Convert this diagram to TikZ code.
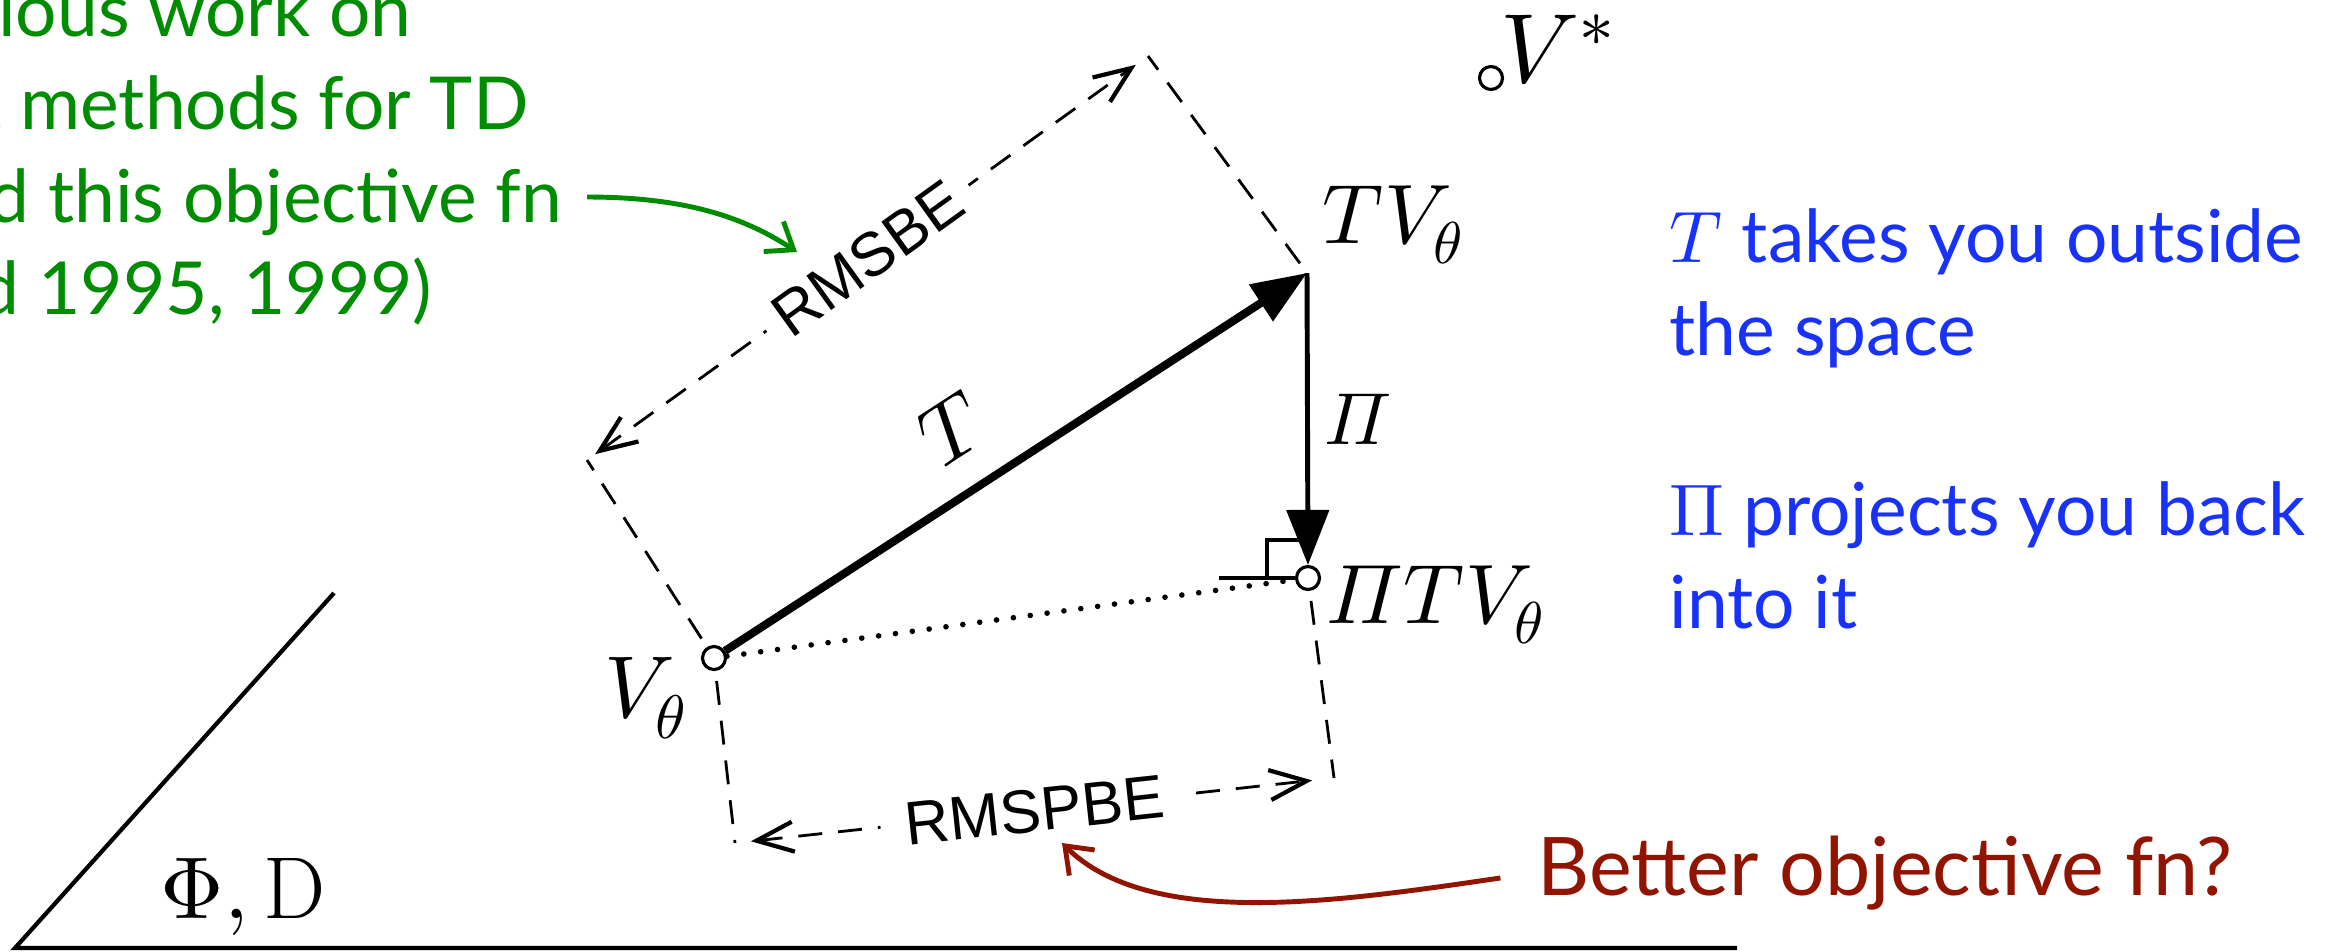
\documentclass[tikz,border=0pt]{standalone}
\usepackage{amsmath}
\usepackage{fontspec}
\usepackage[math-style=ISO]{unicode-math}
\setmathfont{Latin Modern Math}
\usepackage{xcolor}
\usetikzlibrary{arrows.meta,positioning}
\newfontfamily\slidefont{Lato}
\newfontfamily\figfont{Liberation Sans}
\definecolor{noteblue}{RGB}{25,50,250}
\definecolor{notegreen}{RGB}{0,140,0}
\definecolor{notered}{RGB}{145,20,0}

\begin{document}
\begin{tikzpicture}[
  x=0.1mm, y=-0.1mm,
  pt/.style={circle,draw,fill=white,inner sep=0pt,minimum size=2.3mm,line width=0.9pt},
  lbl/.style={inner sep=0pt,font=\fontsize{24}{28}\selectfont},
  guide/.style={dash pattern=on 2.4mm off 1.6mm,line width=0.8pt},
  err/.style={guide,{Straight Barb[length=3.7mm,width=3mm,line width=1.2pt]}-{Straight Barb[length=3.7mm,width=3mm,line width=1.2pt]}},
  errlbl/.style={midway,sloped,fill=white,inner xsep=1.5mm,inner ysep=1pt,font=\figfont\fontsize{17.5}{20}\selectfont},
  op/.style={-{Triangle[length=5.5mm,width=4.2mm]}},
  note/.style={font=\slidefont\fontsize{20.8}{26.4}\selectfont,align=left,inner sep=0pt},
  callout/.style={line width=1.4pt,-{Straight Barb[length=2.4mm,width=3.6mm]}}
]
\useasboundingbox (0,0) rectangle (2343,951);
\clip (0,0) rectangle (2343,951);

% the space Phi, D
\coordinate (p0) at (15,948);
\coordinate (p1) at (1737,948);
\coordinate (p2) at (334,593);
\draw[line width=1.2pt] (p2) -- (p0) -- (p1);
\node[lbl,anchor=base west,font=\fontsize{25}{28}\selectfont] (plane) at (160,918) {$\upPhi,\mathrm{D}$};

% points
\node[pt] (vth) at (714,658) {};
\coordinate (tv) at (1307,273);
\node[pt] (ptv) at (1308,578) {};
\node[pt] (vstar) at (1491,78) {};

\node[lbl,anchor=base west,font=\fontsize{28}{30}\selectfont] (vstarlbl) at (1500,82) {$V^*$};
\node[lbl,anchor=base west] (tvlbl) at (1322,243) {$TV_\theta$};
\node[lbl,anchor=base west] (ptvlbl) at (1326,623) {$\Pi TV_\theta$};
\node[lbl,anchor=base east,font=\fontsize{25}{28}\selectfont] (vthlbl) at (688,717) {$V_\theta$};

% error boxes
\coordinate (bA) at (587,460);
\coordinate (bB) at (1148,56);
\coordinate (bC) at (735,843);
\coordinate (bD) at (1334,778);
\draw[guide,shorten <=1mm] (vth) -- (bA);
\draw[guide,shorten <=1.2mm] (tv) -- (bB);
\draw[guide,shorten <=1mm] (vth) -- (bC);
\draw[guide,shorten <=1mm] (ptv) -- (bD);
\draw[err,shorten <=1mm,shorten >=1.5mm] (bA) -- (bB) node[errlbl] (msbe) {RMSBE};
\draw[err,shorten <=1.6mm,shorten >=2.2mm] (bC) -- (bD) node[errlbl,inner xsep=2.5mm] (mspbe) {RMSPBE};

% projection
\draw[line width=1.6pt,line cap=round,dash pattern=on 0pt off 1.7mm] (vth) -- (ptv);
\coordinate (ra0) at (1219,578);
\coordinate (ra1) at (1267,578);
\coordinate (ra2) at (1307,540);
\draw[line width=0.9pt] (ra0) -- (ptv);
\draw[line width=0.9pt] (ra1) |- (ra2);
\draw[op,line width=2.3pt] (vth) -- (tv) node[lbl,pos=0.45,sloped,above=3mm] (tlbl) {$T$};
\draw[op,line width=1.4pt] (tv) -- (ptv) node[lbl,midway,right=1.5mm,font=\fontsize{21}{24}\selectfont] (pilbl) {$\Pi$};

% slide notes
\node[note,text=notegreen,align=center,anchor=north] (prevwork) at (133,-18) {Previous work on\\gradient methods for TD\\minimized this objective fn\\(Baird 1995, 1999)};
\node[note,text=noteblue,anchor=base west] (tnote) at (1669,355) {$T$ takes you outside\\the space};
\node[note,text=noteblue,anchor=base west] (pinote) at (1669,628) {$\upPi$ projects you back\\into it};
\node[note,text=notered,anchor=base west,font=\slidefont\fontsize{23}{28}\selectfont] (better) at (1537,895) {Better objective fn?};

\coordinate (gstart) at (587,197);
\coordinate (gend) at (797,252);
\coordinate (rend) at (1062,843);
\draw[callout,notegreen] (gstart) .. controls +(93,0) and +(-56,-37) .. (gend);
\draw[callout,notered,shorten <=3.7mm] (better.west) .. controls +(-198,29) and +(88,87) .. (rend);
\end{tikzpicture}
\end{document}
